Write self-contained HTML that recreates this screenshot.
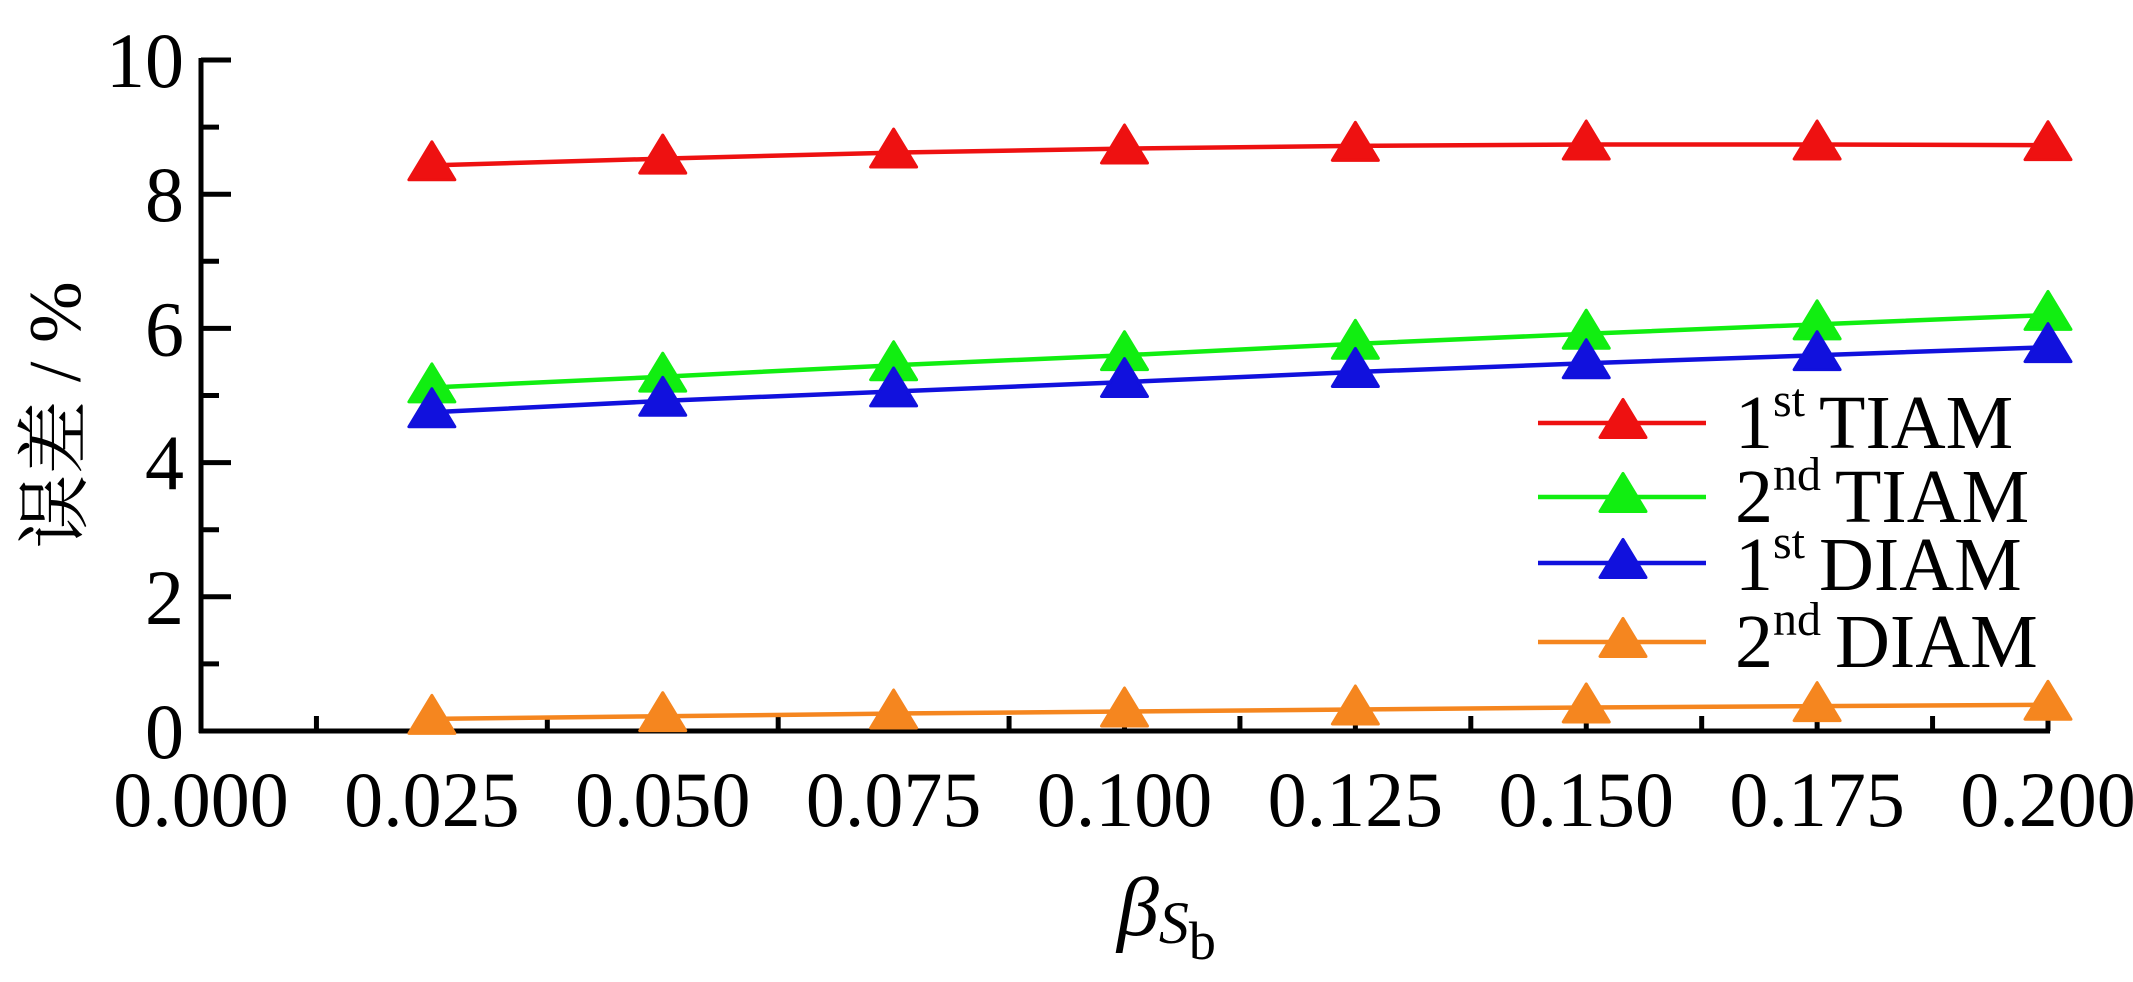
<!DOCTYPE html>
<html><head><meta charset="utf-8"><style>
html,body{margin:0;padding:0;background:#fff;width:2133px;height:982px;overflow:hidden}
svg text{font-family:"Liberation Serif","Noto Serif CJK SC",serif;fill:#000}
</style></head><body>
<svg id="chart" width="2133" height="982" viewBox="0 0 2133 982" xmlns="http://www.w3.org/2000/svg"></svg>
<script>
const categories=[0.025,0.05,0.075,0.1,0.125,0.15,0.175,0.2];
const tiam1=[8.43,8.53,8.62,8.68,8.72,8.74,8.74,8.73];
const tiam2=[5.12,5.28,5.45,5.6,5.77,5.92,6.06,6.2];
const diam1=[4.75,4.92,5.06,5.2,5.35,5.48,5.6,5.72];
const diam2=[0.18,0.22,0.26,0.29,0.32,0.35,0.37,0.39];
const xTicks=["0.000","0.025","0.050","0.075","0.100","0.125","0.150","0.175","0.200"];
const yTicks=["0","2","4","6","8","10"];
const seriesNames=["1st TIAM","2nd TIAM","1st DIAM","2nd DIAM"];
const seriesColors=["#ee1111","#11ee11","#1111dd","#f5861f"];

const NS="http://www.w3.org/2000/svg";
const svg=document.getElementById('chart');
const X0=201,X1=2048,Y0=731,Y1=60;
const xs=v=>X0+(v-0)/(0.2-0)*(X1-X0);
const ys=v=>Y0-(v-0)/(10-0)*(Y0-Y1);
function mk(t,a,p){const e=document.createElementNS(NS,t);for(const k in a)e.setAttribute(k,a[k]);(p||svg).appendChild(e);return e;}
function tri(cx,cy,color,p){const w=23,h=38;return mk('polygon',{points:`${cx},${cy-h*0.62} ${cx-w},${cy+h*0.38} ${cx+w},${cy+h*0.38}`,fill:color,stroke:color,'stroke-width':3,'stroke-linejoin':'round'},p);}

const ax=mk('g',{});


mk('line',{x1:X0,y1:Y1-2,x2:X0,y2:Y0+2,stroke:'#000','stroke-width':5},ax);
mk('line',{x1:X0-2,y1:Y0,x2:X1+2,y2:Y0,stroke:'#000','stroke-width':5},ax);
for(let i=0;i<=10;i++){const y=ys(i);mk('line',{x1:X0,y1:y,x2:X0+(i%2?18:30),y2:y,stroke:'#000','stroke-width':5},ax);}
for(let i=0;i<=16;i++){const x=xs(i*0.0125);mk('line',{x1:x,y1:Y0,x2:x,y2:Y0-(i%2?15:20),stroke:'#000','stroke-width':5},ax);}
yTicks.forEach(t=>{const e=mk('text',{x:184,y:ys(+t)+27,'text-anchor':'end','font-size':78},ax);e.textContent=t;

});
xTicks.forEach(t=>{const e=mk('text',{x:xs(+t),y:826,'text-anchor':'middle','font-size':78},ax);e.textContent=t;

});

[tiam1,tiam2,diam1,diam2].forEach((vals,si)=>{
 const g=mk('g',{});
 
 
 const c=seriesColors[si];
 mk('polyline',{points:vals.map((v,i)=>xs(categories[i])+','+ys(v)).join(' '),fill:'none',stroke:c,'stroke-width':4.5},g);
 vals.forEach((v,i)=>{const t=tri(xs(categories[i]),ys(v),c,g);
 
 });
});

const lg=mk('g',{});


const lyL=[423,497,563,642],lyT=[448,522,590,667];
seriesNames.forEach((n,i)=>{
 const g=mk('g',{},lg);
 
 
 mk('line',{x1:1538,y1:lyL[i],x2:1706,y2:lyL[i],stroke:seriesColors[i],'stroke-width':4.5},g);
 tri(1623,lyL[i],seriesColors[i],g);
 const parts=n.split(' ');const num=parts[0].match(/\d+/)[0],sup=parts[0].replace(/\d+/,'');
 const t=mk('text',{x:1735,y:lyT[i],'font-size':76},g);
 const a=mk('tspan',{},t);a.textContent=num;
 const b=mk('tspan',{dy:-32,'font-size':48},t);b.textContent=sup;
 const c=mk('tspan',{dy:32,dx:14},t);c.textContent=parts[1];
});

const yt=mk('text',{x:0,y:0,'font-size':74,'text-anchor':'middle',transform:'translate(80,415) rotate(-90)'});
yt.textContent='误差 / %';


const xt=mk('text',{x:1117,y:935,'font-size':84,'font-style':'italic'});


const t1=mk('tspan',{},xt);t1.textContent='β';
const t2=mk('tspan',{dy:8,'font-size':60},xt);t2.textContent='S';
const t3=mk('tspan',{dy:16,'font-size':54,'font-style':'normal'},xt);t3.textContent='b';
</script>
</body></html>
